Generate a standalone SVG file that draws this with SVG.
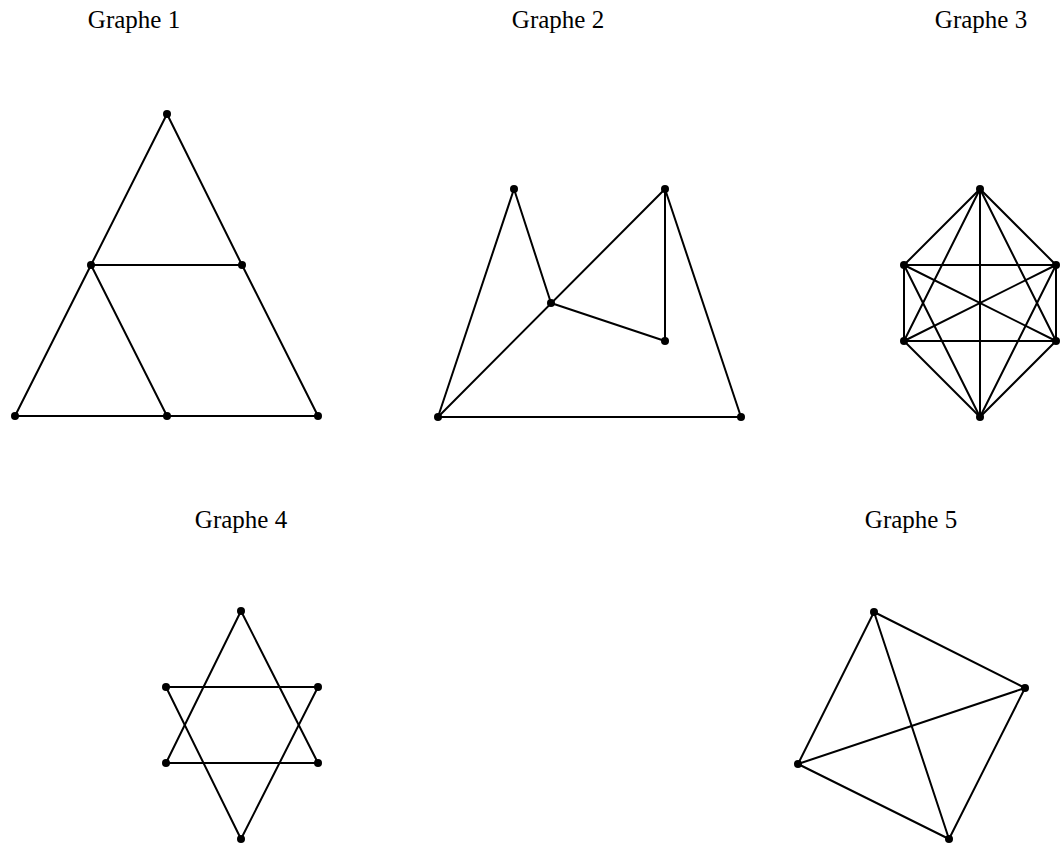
<svg xmlns="http://www.w3.org/2000/svg" width="1060" height="843" viewBox="0 0 1060 843">
<style>
.lbl{font-family:"Liberation Serif","DejaVu Serif",serif;font-size:25px;fill:#000;text-anchor:middle}
.e line{stroke:#000;stroke-width:2;stroke-linecap:round}
.n circle{fill:#000}
</style>
<rect width="1060" height="843" fill="#fff"/>
<text class="lbl" x="134" y="28">Graphe 1</text>
<text class="lbl" x="558" y="28">Graphe 2</text>
<text class="lbl" x="981" y="28">Graphe 3</text>
<text class="lbl" x="241" y="528">Graphe 4</text>
<text class="lbl" x="911" y="528">Graphe 5</text>
<g id="connectors" class="e">
<!-- Graph 1 -->
<line x1="167" y1="114" x2="91" y2="265"/>
<line x1="167" y1="114" x2="242" y2="265"/>
<line x1="91" y1="265" x2="242" y2="265"/>
<line x1="91" y1="265" x2="15" y2="416"/>
<line x1="91" y1="265" x2="167" y2="416"/>
<line x1="242" y1="265" x2="318" y2="416"/>
<line x1="15" y1="416" x2="318" y2="416"/>
<!-- Graph 2 -->
<line x1="438" y1="417" x2="514" y2="189"/>
<line x1="514" y1="189" x2="551" y2="303"/>
<line x1="438" y1="417" x2="665" y2="189"/>
<line x1="665" y1="189" x2="665" y2="341"/>
<line x1="551" y1="303" x2="665" y2="341"/>
<line x1="665" y1="189" x2="741" y2="417"/>
<line x1="438" y1="417" x2="741" y2="417"/>
<!-- Graph 3 -->
<line x1="980" y1="189" x2="904" y2="265"/>
<line x1="980" y1="189" x2="1056" y2="265"/>
<line x1="980" y1="189" x2="904" y2="341"/>
<line x1="980" y1="189" x2="1056" y2="341"/>
<line x1="980" y1="189" x2="980" y2="417"/>
<line x1="904" y1="265" x2="1056" y2="265"/>
<line x1="904" y1="265" x2="904" y2="341"/>
<line x1="904" y1="265" x2="1056" y2="341"/>
<line x1="904" y1="265" x2="980" y2="417"/>
<line x1="1056" y1="265" x2="904" y2="341"/>
<line x1="1056" y1="265" x2="1056" y2="341"/>
<line x1="1056" y1="265" x2="980" y2="417"/>
<line x1="904" y1="341" x2="1056" y2="341"/>
<line x1="904" y1="341" x2="980" y2="417"/>
<line x1="1056" y1="341" x2="980" y2="417"/>
<!-- Graph 4 -->
<line x1="241" y1="611" x2="166" y2="763"/>
<line x1="241" y1="611" x2="318" y2="763"/>
<line x1="166" y1="763" x2="318" y2="763"/>
<line x1="166" y1="687" x2="318" y2="687"/>
<line x1="166" y1="687" x2="241" y2="839"/>
<line x1="318" y1="687" x2="241" y2="839"/>
<!-- Graph 5 -->
<line x1="874" y1="612" x2="1025" y2="688"/>
<line x1="874" y1="612" x2="798" y2="764"/>
<line x1="874" y1="612" x2="949" y2="839"/>
<line x1="798" y1="764" x2="1025" y2="688"/>
<line x1="798" y1="764" x2="949" y2="839"/>
<line x1="1025" y1="688" x2="949" y2="839"/>
</g>
<g id="g1-nodes" class="n">
<g id="g1-a"><circle cx="167" cy="114" r="4"/></g>
<g id="g1-b"><circle cx="91" cy="265" r="4"/></g>
<g id="g1-c"><circle cx="242" cy="265" r="4"/></g>
<g id="g1-d"><circle cx="15" cy="416" r="4"/></g>
<g id="g1-e"><circle cx="167" cy="416" r="4"/></g>
<g id="g1-f"><circle cx="318" cy="416" r="4"/></g>
</g>
<g id="g2-nodes" class="n">
<g id="g2-a"><circle cx="514" cy="189" r="4"/></g>
<g id="g2-b"><circle cx="665" cy="189" r="4"/></g>
<g id="g2-c"><circle cx="551" cy="303" r="4"/></g>
<g id="g2-d"><circle cx="665" cy="341" r="4"/></g>
<g id="g2-e"><circle cx="438" cy="417" r="4"/></g>
<g id="g2-f"><circle cx="741" cy="417" r="4"/></g>
</g>
<g id="g3-nodes" class="n">
<g id="g3-a"><circle cx="980" cy="189" r="4"/></g>
<g id="g3-b"><circle cx="904" cy="265" r="4"/></g>
<g id="g3-c"><circle cx="1056" cy="265" r="4"/></g>
<g id="g3-d"><circle cx="904" cy="341" r="4"/></g>
<g id="g3-e"><circle cx="1056" cy="341" r="4"/></g>
<g id="g3-f"><circle cx="980" cy="417" r="4"/></g>
</g>
<g id="g4-nodes" class="n">
<g id="g4-a"><circle cx="241" cy="611" r="4"/></g>
<g id="g4-b"><circle cx="166" cy="687" r="4"/></g>
<g id="g4-c"><circle cx="318" cy="687" r="4"/></g>
<g id="g4-d"><circle cx="166" cy="763" r="4"/></g>
<g id="g4-e"><circle cx="318" cy="763" r="4"/></g>
<g id="g4-f"><circle cx="241" cy="839" r="4"/></g>
</g>
<g id="g5-nodes" class="n">
<g id="g5-a"><circle cx="874" cy="612" r="4"/></g>
<g id="g5-b"><circle cx="1025" cy="688" r="4"/></g>
<g id="g5-c"><circle cx="798" cy="764" r="4"/></g>
<g id="g5-d"><circle cx="949" cy="839" r="4"/></g>
</g>
</svg>
